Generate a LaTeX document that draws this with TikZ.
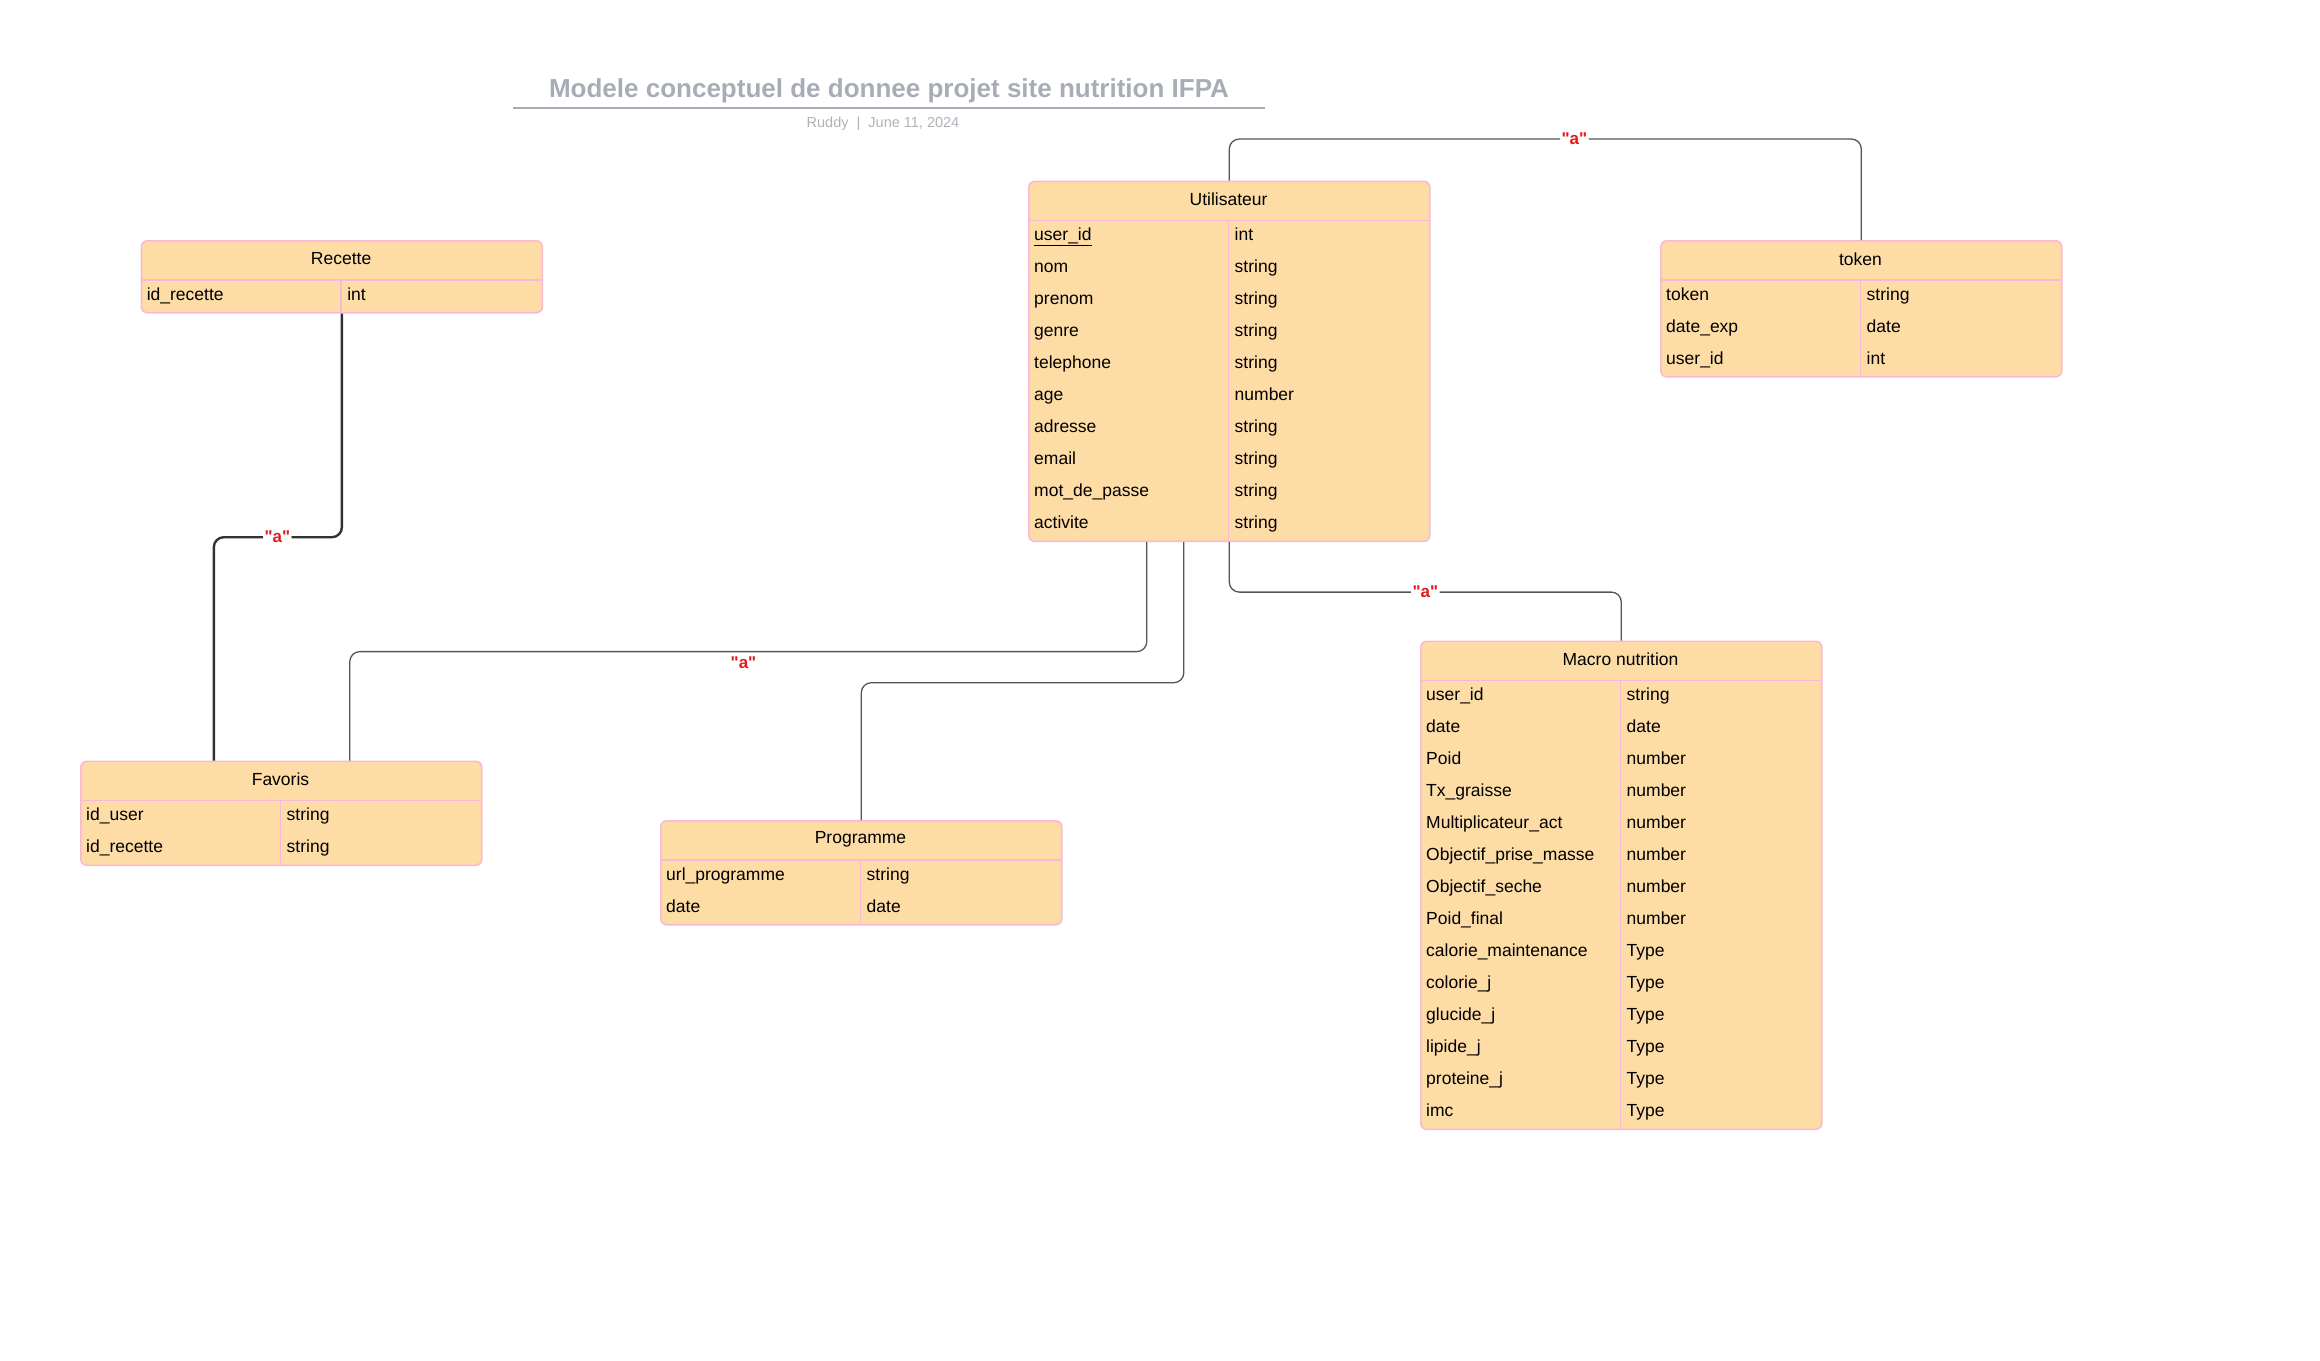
\documentclass[tikz,border=0pt]{standalone}
\usepackage{fontspec}
\setmainfont{Liberation Sans}
\usetikzlibrary{calc}

\definecolor{peach}{HTML}{FEDCA6}
\definecolor{pinkline}{HTML}{F8B9D8}
\definecolor{titlegray}{HTML}{A7ACB6}
\definecolor{subgray}{HTML}{AEB2B9}
\definecolor{linkgray}{HTML}{555555}
\definecolor{lblred}{HTML}{E41A1A}

% #1 name, #2 left, #3 top, #4 title, #5 number of rows, #6 rows as field/type
\newcommand\ertable[6]{%
  \node[tbl, minimum height={40+32*#5}, anchor=north west] (#1) at (#2,#3) {};
  \node[hdr] (#1-title) at (#2+200.5,#3+19) {#4};
  \draw[sep] (#2,#3+40) -- (#2+401,#3+40);
  \draw[sep] (#2+200.5,#3+40) -- (#2+200.5,#3+40+32*#5);
  \foreach \ky/\ty [count=\i] in {#6} {
    \node[cell] (#1-k\i) at (#2+6,#3+23.5+32*\i) {\ky};
    \node[cell] (#1-t\i) at (#2+206.5,#3+23.5+32*\i) {\ty};
  }%
}
\newcommand\relname{\textquotedbl a\textquotedbl}

\begin{document}
\begin{tikzpicture}[x=1pt,y=-1pt,
  tbl/.style={draw=pinkline, line width=1.6pt, fill=peach, rounded corners=6pt,
    minimum width=401pt, inner sep=0pt},
  sep/.style={draw=pinkline, line width=1.3pt},
  hdr/.style={font=\fontsize{17.5}{21}\selectfont, inner sep=0pt},
  cell/.style={anchor=west, font=\fontsize{17.5}{21}\selectfont, inner sep=0pt,
    text height=12.5pt, text depth=3.5pt},
  link/.style={draw=linkgray, line width=1.3pt, rounded corners=10pt},
  strong link/.style={link, draw=black!80, line width=2.4pt},
  lbl/.style={font=\bfseries\fontsize{17}{20}\selectfont, text=lblred, fill=white,
    inner sep=1.5pt},
]
\useasboundingbox (0,0) rectangle (2320,1360);

% heading
\node[font=\bfseries\fontsize{26}{30}\selectfont, text=titlegray] (title) at (889,91)
  {Modele conceptuel de donnee projet site nutrition IFPA};
\draw[titlegray, line width=2pt] (513,108) -- (1265,108);
\node[font=\fontsize{14.5}{17}\selectfont, text=subgray] (sub) at (883,124)
  {Ruddy\ \ |\ \ June 11, 2024};

% entities
\ertable{util}{1028}{180.5}{Utilisateur}{10}{%
  {\underline{user\_id}}/int, nom/string, prenom/string, genre/string,
  telephone/string, age/number, adresse/string, email/string,
  mot\_de\_passe/string, activite/string}
\ertable{rec}{140.6}{240}{Recette}{1}{id\_recette/int}
\ertable{token}{1660}{240}{token}{3}{token/string, date\_exp/date, user\_id/int}
\ertable{fav}{80}{760.5}{Favoris}{2}{id\_user/string, id\_recette/string}
\ertable{prog}{660}{820}{Programme}{2}{url\_programme/string, date/date}
\ertable{macro}{1420}{640.5}{Macro nutrition}{14}{%
  user\_id/string, date/date, Poid/number, Tx\_graisse/number,
  Multiplicateur\_act/number, Objectif\_prise\_masse/number,
  Objectif\_seche/number, Poid\_final/number, calorie\_maintenance/Type,
  colorie\_j/Type, glucide\_j/Type, lipide\_j/Type, proteine\_j/Type, imc/Type}

% relations
\draw[link] (util.north) -- ++(0,-41.5)
  -| node[lbl, pos=0.273] {\relname} (token.north);
\draw[strong link] (rec.south) -- ++(0,223.6)
  -| node[lbl, pos=0.252] {\relname} ([xshift=-67.5pt]fav.north);
\draw[link] ([xshift=-82.5pt]util.south) -- ++(0,109.5)
  -| node[lbl, pos=0.253, yshift=-11.5pt] {\relname} ([xshift=68.5pt]fav.north);
\draw[link] ([xshift=-45.5pt]util.south) -- ++(0,140.6) -| (prog.north);
\draw[link] (util.south) -- ++(0,50)
  -| node[lbl, pos=0.25] {\relname} (macro.north);
\end{tikzpicture}
\end{document}
